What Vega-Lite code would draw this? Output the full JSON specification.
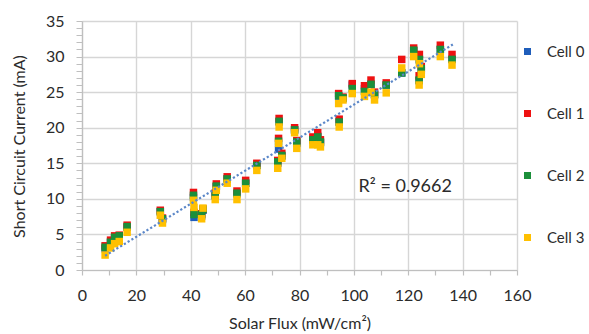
{
  "$schema": "https://vega.github.io/schema/vega-lite/v6.json",
  "width": 435,
  "height": 249,
  "autosize": {"type": "none"},
  "padding": {"left": 82, "top": 21, "right": 72, "bottom": 64},
  "background": "white",
  "config": {"view": {"stroke": null}, "font": "Lato"},
  "datasets": {
    "pts": [
      {"flux":8.5,"current":3.0,"cell":"Cell 0"},{"flux":10.5,"current":3.9,"cell":"Cell 0"},{"flux":12.0,"current":4.5,"cell":"Cell 0"},{"flux":13.7,"current":4.7,"cell":"Cell 0"},{"flux":16.6,"current":6.0,"cell":"Cell 0"},{"flux":28.8,"current":8.2,"cell":"Cell 0"},{"flux":29.6,"current":7.1,"cell":"Cell 0"},{"flux":41.0,"current":10.2,"cell":"Cell 0"},{"flux":41.2,"current":7.4,"cell":"Cell 0"},{"flux":44.0,"current":7.6,"cell":"Cell 0"},{"flux":44.5,"current":8.4,"cell":"Cell 0"},{"flux":49.4,"current":11.7,"cell":"Cell 0"},{"flux":49.0,"current":10.4,"cell":"Cell 0"},{"flux":53.4,"current":12.8,"cell":"Cell 0"},{"flux":57.0,"current":10.7,"cell":"Cell 0"},{"flux":60.2,"current":12.2,"cell":"Cell 0"},{"flux":64.3,"current":14.7,"cell":"Cell 0"},{"flux":72.5,"current":20.8,"cell":"Cell 0"},{"flux":72.3,"current":17.0,"cell":"Cell 0"},{"flux":72.0,"current":15.0,"cell":"Cell 0"},{"flux":73.5,"current":16.0,"cell":"Cell 0"},{"flux":78.2,"current":19.7,"cell":"Cell 0"},{"flux":79.0,"current":17.8,"cell":"Cell 0"},{"flux":84.9,"current":18.3,"cell":"Cell 0"},{"flux":86.7,"current":18.8,"cell":"Cell 0"},{"flux":87.7,"current":17.9,"cell":"Cell 0"},{"flux":94.6,"current":20.8,"cell":"Cell 0"},{"flux":94.4,"current":24.4,"cell":"Cell 0"},{"flux":96.0,"current":24.1,"cell":"Cell 0"},{"flux":99.4,"current":26.0,"cell":"Cell 0"},{"flux":103.9,"current":25.5,"cell":"Cell 0"},{"flux":106.3,"current":26.1,"cell":"Cell 0"},{"flux":107.6,"current":24.6,"cell":"Cell 0"},{"flux":111.9,"current":26.0,"cell":"Cell 0"},{"flux":117.6,"current":27.7,"cell":"Cell 0"},{"flux":122.0,"current":30.8,"cell":"Cell 0"},{"flux":124.1,"current":29.5,"cell":"Cell 0"},{"flux":124.0,"current":26.6,"cell":"Cell 0"},{"flux":124.8,"current":28.1,"cell":"Cell 0"},{"flux":131.8,"current":31.0,"cell":"Cell 0"},{"flux":136.1,"current":29.6,"cell":"Cell 0"},
      {"flux":8.5,"current":3.4,"cell":"Cell 1"},{"flux":10.5,"current":4.2,"cell":"Cell 1"},{"flux":12.0,"current":4.8,"cell":"Cell 1"},{"flux":13.7,"current":4.9,"cell":"Cell 1"},{"flux":16.6,"current":6.3,"cell":"Cell 1"},{"flux":28.8,"current":8.4,"cell":"Cell 1"},{"flux":29.6,"current":7.3,"cell":"Cell 1"},{"flux":41.0,"current":10.9,"cell":"Cell 1"},{"flux":41.2,"current":8.1,"cell":"Cell 1"},{"flux":44.0,"current":7.9,"cell":"Cell 1"},{"flux":44.5,"current":8.6,"cell":"Cell 1"},{"flux":49.4,"current":12.1,"cell":"Cell 1"},{"flux":49.0,"current":10.8,"cell":"Cell 1"},{"flux":53.4,"current":13.1,"cell":"Cell 1"},{"flux":57.0,"current":11.1,"cell":"Cell 1"},{"flux":60.2,"current":12.6,"cell":"Cell 1"},{"flux":64.3,"current":15.0,"cell":"Cell 1"},{"flux":72.5,"current":21.3,"cell":"Cell 1"},{"flux":72.3,"current":18.5,"cell":"Cell 1"},{"flux":72.0,"current":15.4,"cell":"Cell 1"},{"flux":73.5,"current":16.4,"cell":"Cell 1"},{"flux":78.2,"current":20.0,"cell":"Cell 1"},{"flux":79.0,"current":18.2,"cell":"Cell 1"},{"flux":84.9,"current":18.7,"cell":"Cell 1"},{"flux":86.7,"current":19.3,"cell":"Cell 1"},{"flux":87.7,"current":18.3,"cell":"Cell 1"},{"flux":94.6,"current":21.2,"cell":"Cell 1"},{"flux":94.4,"current":24.8,"cell":"Cell 1"},{"flux":96.0,"current":24.3,"cell":"Cell 1"},{"flux":99.4,"current":26.2,"cell":"Cell 1"},{"flux":103.9,"current":25.9,"cell":"Cell 1"},{"flux":106.3,"current":26.7,"cell":"Cell 1"},{"flux":107.6,"current":25.0,"cell":"Cell 1"},{"flux":111.9,"current":26.3,"cell":"Cell 1"},{"flux":117.6,"current":29.6,"cell":"Cell 1"},{"flux":122.0,"current":31.2,"cell":"Cell 1"},{"flux":124.1,"current":30.3,"cell":"Cell 1"},{"flux":124.0,"current":27.3,"cell":"Cell 1"},{"flux":124.8,"current":28.6,"cell":"Cell 1"},{"flux":131.8,"current":31.6,"cell":"Cell 1"},{"flux":136.1,"current":30.3,"cell":"Cell 1"},
      {"flux":8.5,"current":3.2,"cell":"Cell 2"},{"flux":10.5,"current":3.9,"cell":"Cell 2"},{"flux":12.0,"current":4.6,"cell":"Cell 2"},{"flux":13.7,"current":4.8,"cell":"Cell 2"},{"flux":16.6,"current":6.1,"cell":"Cell 2"},{"flux":28.8,"current":8.2,"cell":"Cell 2"},{"flux":29.6,"current":7.2,"cell":"Cell 2"},{"flux":41.0,"current":10.5,"cell":"Cell 2"},{"flux":41.2,"current":7.8,"cell":"Cell 2"},{"flux":44.0,"current":7.8,"cell":"Cell 2"},{"flux":44.5,"current":8.5,"cell":"Cell 2"},{"flux":49.4,"current":11.8,"cell":"Cell 2"},{"flux":49.0,"current":10.5,"cell":"Cell 2"},{"flux":53.4,"current":12.8,"cell":"Cell 2"},{"flux":57.0,"current":10.8,"cell":"Cell 2"},{"flux":60.2,"current":12.2,"cell":"Cell 2"},{"flux":64.3,"current":14.7,"cell":"Cell 2"},{"flux":72.5,"current":20.9,"cell":"Cell 2"},{"flux":72.3,"current":18.1,"cell":"Cell 2"},{"flux":72.0,"current":15.2,"cell":"Cell 2"},{"flux":73.5,"current":16.1,"cell":"Cell 2"},{"flux":78.2,"current":19.7,"cell":"Cell 2"},{"flux":79.0,"current":18.0,"cell":"Cell 2"},{"flux":84.9,"current":18.3,"cell":"Cell 2"},{"flux":86.7,"current":18.7,"cell":"Cell 2"},{"flux":87.7,"current":18.0,"cell":"Cell 2"},{"flux":94.6,"current":20.8,"cell":"Cell 2"},{"flux":94.4,"current":24.5,"cell":"Cell 2"},{"flux":96.0,"current":24.2,"cell":"Cell 2"},{"flux":99.4,"current":25.5,"cell":"Cell 2"},{"flux":103.9,"current":25.1,"cell":"Cell 2"},{"flux":106.3,"current":26.1,"cell":"Cell 2"},{"flux":107.6,"current":24.7,"cell":"Cell 2"},{"flux":111.9,"current":26.0,"cell":"Cell 2"},{"flux":117.6,"current":27.7,"cell":"Cell 2"},{"flux":122.0,"current":30.9,"cell":"Cell 2"},{"flux":124.1,"current":29.6,"cell":"Cell 2"},{"flux":124.0,"current":26.7,"cell":"Cell 2"},{"flux":124.8,"current":28.3,"cell":"Cell 2"},{"flux":131.8,"current":31.0,"cell":"Cell 2"},{"flux":136.1,"current":29.6,"cell":"Cell 2"},
      {"flux":8.5,"current":2.1,"cell":"Cell 3"},{"flux":10.5,"current":3.1,"cell":"Cell 3"},{"flux":12.0,"current":3.7,"cell":"Cell 3"},{"flux":13.7,"current":4.0,"cell":"Cell 3"},{"flux":16.6,"current":5.3,"cell":"Cell 3"},{"flux":28.8,"current":7.7,"cell":"Cell 3"},{"flux":29.6,"current":6.6,"cell":"Cell 3"},{"flux":41.0,"current":9.8,"cell":"Cell 3"},{"flux":41.2,"current":8.8,"cell":"Cell 3"},{"flux":44.0,"current":7.2,"cell":"Cell 3"},{"flux":44.5,"current":8.7,"cell":"Cell 3"},{"flux":49.4,"current":11.2,"cell":"Cell 3"},{"flux":49.0,"current":9.9,"cell":"Cell 3"},{"flux":53.4,"current":12.2,"cell":"Cell 3"},{"flux":57.0,"current":9.9,"cell":"Cell 3"},{"flux":60.2,"current":11.4,"cell":"Cell 3"},{"flux":64.3,"current":14.0,"cell":"Cell 3"},{"flux":72.5,"current":20.1,"cell":"Cell 3"},{"flux":72.3,"current":17.8,"cell":"Cell 3"},{"flux":72.0,"current":14.3,"cell":"Cell 3"},{"flux":73.5,"current":15.7,"cell":"Cell 3"},{"flux":78.2,"current":19.3,"cell":"Cell 3"},{"flux":79.0,"current":17.1,"cell":"Cell 3"},{"flux":84.9,"current":17.6,"cell":"Cell 3"},{"flux":86.7,"current":17.6,"cell":"Cell 3"},{"flux":87.7,"current":17.3,"cell":"Cell 3"},{"flux":94.6,"current":20.1,"cell":"Cell 3"},{"flux":94.4,"current":23.4,"cell":"Cell 3"},{"flux":96.0,"current":23.9,"cell":"Cell 3"},{"flux":99.4,"current":24.8,"cell":"Cell 3"},{"flux":103.9,"current":24.4,"cell":"Cell 3"},{"flux":106.3,"current":25.0,"cell":"Cell 3"},{"flux":107.6,"current":23.9,"cell":"Cell 3"},{"flux":111.9,"current":24.9,"cell":"Cell 3"},{"flux":117.6,"current":28.4,"cell":"Cell 3"},{"flux":122.0,"current":30.0,"cell":"Cell 3"},{"flux":124.1,"current":29.0,"cell":"Cell 3"},{"flux":124.0,"current":26.0,"cell":"Cell 3"},{"flux":124.8,"current":27.5,"cell":"Cell 3"},{"flux":131.8,"current":30.0,"cell":"Cell 3"},{"flux":136.1,"current":28.8,"cell":"Cell 3"}
    ],
    "trend": [{"flux": 8.5, "current": 2.0}, {"flux": 136.4, "current": 31.7}],
    "note": [{"flux": 101.7, "current": 11.6, "label": "R² = 0.9662"}]
  },
  "encoding": {
    "x": {
      "field": "flux", "type": "quantitative",
      "scale": {"domain": [0, 160], "nice": false, "zero": false},
      "axis": {
        "title": "Solar Flux (mW/cm²)",
        "values": [0,10,20,30,40,50,60,70,80,90,100,110,120,130,140,150,160],
        "labelExpr": "datum.value % 20 === 0 ? datum.label : ''",
        "gridOpacity": {"condition": {"test": "datum.value % 20 === 0", "value": 1}, "value": 0},
        "gridColor": "#d6d6d6", "gridWidth": 1.4,
        "domainColor": "#bfbfbf", "domainWidth": 1.2,
        "tickColor": "#bfbfbf", "tickSize": 5, "tickWidth": 1.2,
        "labelFontSize": 16, "labelColor": "#2b2b2b", "labelPadding": 12,
        "labelOverlap": false, "labelFlush": false, "labelBound": false,
        "titleFontSize": 16, "titleFontWeight": "normal", "titleColor": "#2b2b2b",
        "titleBaseline": "middle", "titleY": 53
      }
    },
    "y": {
      "field": "current", "type": "quantitative",
      "scale": {"domain": [0, 35], "nice": false},
      "axis": {
        "title": "Short Circuit Current (mA)",
        "values": [0,1,2,3,4,5,6,7,8,9,10,11,12,13,14,15,16,17,18,19,20,21,22,23,24,25,26,27,28,29,30,31,32,33,34,35],
        "labelExpr": "datum.value % 5 === 0 ? datum.label : ''",
        "gridOpacity": {"condition": {"test": "datum.value % 5 === 0", "value": 1}, "value": 0},
        "gridColor": "#d6d6d6", "gridWidth": 1.4,
        "domainColor": "#bfbfbf", "domainWidth": 1.2,
        "tickColor": "#bfbfbf", "tickSize": 6, "tickWidth": 1,
        "labelFontSize": 16, "labelColor": "#2b2b2b", "labelPadding": 12,
        "labelOverlap": false, "labelFlush": false, "labelBound": false,
        "titleFontSize": 16, "titleFontWeight": "normal", "titleColor": "#2b2b2b",
        "titleBaseline": "middle", "titleX": -63, "titleY": 125
      }
    }
  },
  "layer": [
    {
      "data": {"name": "pts"},
      "mark": {"type": "square", "size": 56, "opacity": 1, "filled": true},
      "encoding": {
        "color": {
          "field": "cell", "type": "nominal",
          "scale": {"domain": ["Cell 0", "Cell 1", "Cell 2", "Cell 3"], "range": ["#1F5DBA", "#EE1111", "#1B8F3A", "#FFC000"]},
          "legend": {
            "title": null, "orient": "none", "legendX": 438, "legendY": 23,
            "direction": "vertical", "symbolType": "square", "symbolSize": 49,
            "symbolStrokeWidth": 0, "labelFontSize": 15, "labelColor": "#2b2b2b",
            "labelOffset": 12, "rowPadding": 46, "padding": 0, "labelLimit": 60
          }
        }
      }
    },
    {
      "data": {"name": "trend"},
      "mark": {"type": "line", "color": "#5B87C8", "strokeWidth": 2.2, "strokeDash": [2.2, 2.2]}
    },
    {
      "data": {"name": "note"},
      "mark": {"type": "text", "align": "left", "baseline": "middle", "fontSize": 18, "color": "#2b2b2b"},
      "encoding": {"text": {"field": "label"}}
    }
  ]
}
